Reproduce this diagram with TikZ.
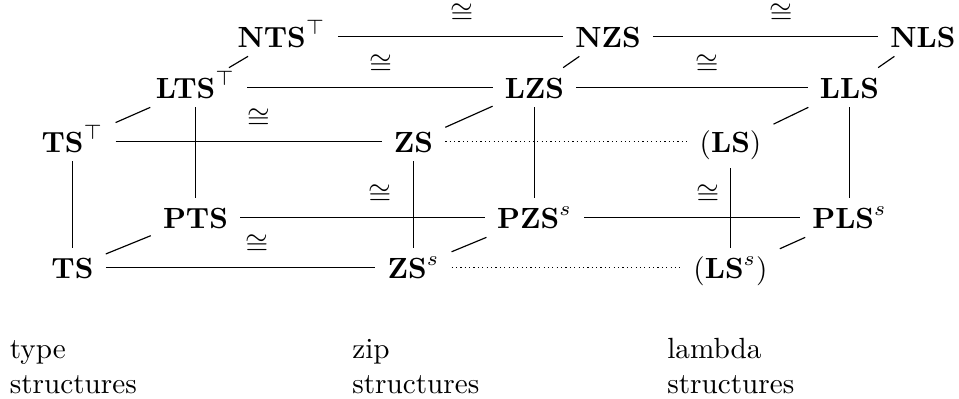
\documentclass[tikz,border=0pt]{standalone}
\begin{document}
\begin{tikzpicture}[x=0.3425pt,y=-0.3425pt,
  obj/.style={anchor=base, inner xsep=4pt, inner ysep=2.8pt, text height=7.4pt, text depth=0.2pt},
  pobj/.style={obj, text depth=2.5pt},
  lab/.style={above=4.1pt, inner sep=0pt},
  dots/.style={dash pattern=on 0.4pt off 1.1pt},
  txt/.style={anchor=base west, inner sep=0pt}]
\useasboundingbox (0,0) rectangle (959,398);
% nodes
\node[obj] (NTS) at (281.5,47) {$\mathbf{NTS}^{\top}$};
\node[obj] (NZS) at (608,47) {$\mathbf{NZS}$};
\node[obj] (NLS) at (923,47) {$\mathbf{NLS}$};
\node[obj] (LTS) at (195.5,98) {$\mathbf{LTS}^{\top}$};
\node[obj] (LZS) at (534.5,98) {$\mathbf{LZS}$};
\node[obj] (LLS) at (849.5,98) {$\mathbf{LLS}$};
\node[obj] (TSt) at (72.5,152) {$\mathbf{TS}^{\top}$};
\node[obj] (ZS) at (413.5,152) {$\mathbf{ZS}$};
\node[pobj] (LS) at (730.5,152) {$(\mathbf{LS})$};
\node[obj] (PTS) at (195.5,228) {$\mathbf{PTS}$};
\node[obj] (PZS) at (534.5,228) {$\mathbf{PZS}^{s}$};
\node[obj] (PLS) at (849.5,228) {$\mathbf{PLS}^{s}$};
\node[obj] (TS) at (72.5,278) {$\mathbf{TS}$};
\node[obj] (ZSs) at (413.5,278) {$\mathbf{ZS}^{s}$};
\node[pobj] (LSs) at (730.5,278) {$(\mathbf{LS}^{s})$};
% captions
\node[txt] (t1) at (9.3,358.3) {type};
\node[txt] (t2) at (9.3,393.3) {structures};
\node[txt] (z1) at (351.7,358.3) {zip};
\node[txt] (z2) at (351.7,393.3) {structures};
\node[txt] (l1) at (666.7,358.3) {lambda};
\node[txt] (l2) at (666.7,393.3) {structures};
% horizontal lines
\draw (NTS) -- node[lab,pos=0.551] {$\cong$} (NZS);
\draw (NZS) -- node[lab,pos=0.569] {$\cong$} (NLS);
\draw (LTS) -- node[lab,pos=0.544] {$\cong$} (LZS);
\draw (LZS) -- node[lab,pos=0.566] {$\cong$} (LLS);
\draw (TSt) -- node[lab,pos=0.537] {$\cong$} (ZS);
\draw[dots] (ZS.east) -- (ZS.east -| LS.west);
\draw (PTS) -- node[lab,pos=0.571] {$\cong$} (PZS);
\draw (PZS) -- node[lab,pos=0.573] {$\cong$} (PLS);
\draw (TS) -- node[lab,pos=0.561] {$\cong$} (ZSs);
\draw[dots] (ZSs.east) -- (ZSs.east -| LSs.west);
% vertical lines
\draw (TSt) -- (TS);
\draw (LTS) -- (PTS);
\draw (ZS) -- (ZSs);
\draw (LZS) -- (PZS);
\draw (LS) -- (LSs);
\draw (LLS) -- (PLS);
% diagonal lines
\draw (TSt) -- (LTS);
\draw (LTS) -- (NTS);
\draw (ZS) -- (LZS);
\draw (LZS) -- (NZS);
\draw (LS) -- (LLS);
\draw (LLS) -- (NLS);
\draw (TS) -- (PTS);
\draw (ZSs) -- (PZS);
\draw (LSs) -- (PLS);
\end{tikzpicture}
\end{document}
